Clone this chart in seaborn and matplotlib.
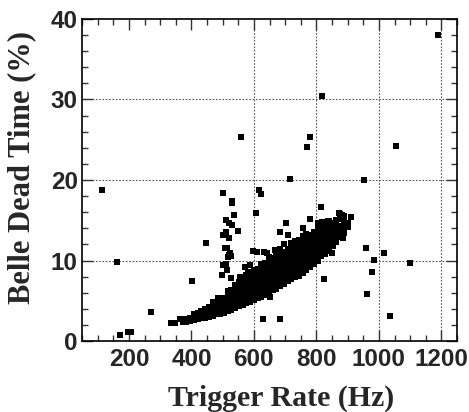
import numpy as np
import pandas as pd
import matplotlib
matplotlib.use("Agg")
import matplotlib.pyplot as plt
from matplotlib.ticker import MultipleLocator
import seaborn as sns

# isolated runs far from the main band (rate in Hz, dead time in %)
stray_rate = [115, 163, 172, 198, 206, 271, 334, 340, 346, 364, 374, 403, 446,
              560, 607, 617, 622, 609, 628, 684, 652, 716, 769, 780, 819, 814,
              824, 952, 959, 961, 977, 985, 1017, 1036, 1055, 1100, 1190]
stray_dead = [18.8, 9.8, 0.8, 1.1, 1.1, 3.6, 2.2, 2.2, 2.2, 2.7, 2.4, 7.5, 12.2,
              25.4, 15.9, 18.8, 18.3, 11.1, 2.7, 2.7, 5.5, 20.1, 24.1, 25.4, 30.4, 16.6,
              7.7, 20.0, 11.6, 5.8, 8.6, 10.1, 10.9, 3.1, 24.2, 9.7, 38.0]

# the vertical streak around 500-560 Hz
spur_rate = [502, 531, 531, 536, 511, 521, 529, 550, 502, 511, 521, 508, 513,
             521, 526, 518, 523, 500, 511, 513, 497, 526, 572, 588, 556, 598]
spur_dead = [18.4, 17.4, 17.1, 15.6, 15.0, 14.7, 14.4, 13.7, 13.2, 13.5, 12.8, 11.5, 11.6,
             10.7, 10.5, 10.4, 10.9, 9.4, 9.6, 8.8, 8.2, 7.8, 9.2, 9.4, 8.0, 11.2]

# loose points on the upper edge of the band
fringe_rate = [758, 764, 780, 806, 817, 838, 873, 881, 911, 897, 900, 884, 849,
               703, 684, 710, 668, 632, 641, 806, 470, 486, 540, 582, 854]
fringe_dead = [14.0, 13.0, 15.1, 14.6, 14.8, 14.9, 15.9, 15.7, 15.4, 14.6, 14.1, 12.8, 10.9,
               14.6, 13.6, 13.2, 11.3, 11.1, 10.9, 10.1, 4.9, 5.3, 6.9, 8.6, 11.9]

# the dense band, read column by column
band_rate = [384, 396, 408, 420, 432, 444, 456, 468, 480, 492, 504, 516, 528, 540,
             552, 564, 576, 588, 600, 612, 624, 636, 648, 660, 672, 684, 696, 708,
             720, 732, 744, 756, 768, 780, 792, 804, 816, 828, 840, 852, 864, 876,
             888, 900]
band_dead = [
    [2.4, 2.7],
    [2.5, 2.9],
    [2.6, 3.0, 3.3],
    [2.7, 3.1, 3.5],
    [2.8, 3.2, 3.7],
    [2.9, 3.3, 3.7, 4.0],
    [3.0, 3.4, 3.8, 4.2],
    [3.1, 3.5, 3.9, 4.4],
    [3.3, 3.7, 4.1, 4.5, 4.8],
    [3.4, 3.8, 4.2, 4.6, 5.1],
    [3.5, 3.9, 4.3, 4.7, 5.1, 5.4],
    [3.7, 4.1, 4.5, 4.9, 5.3, 5.7, 6.2],
    [3.9, 4.3, 4.7, 5.1, 5.5, 5.9, 6.3],
    [4.1, 4.5, 4.9, 5.3, 5.7, 6.1, 6.4],
    [4.3, 4.7, 5.1, 5.5, 5.9, 6.3, 6.7, 7.3],
    [4.5, 4.9, 5.3, 5.7, 6.1, 6.5, 6.9, 7.2],
    [4.7, 5.1, 5.5, 5.9, 6.3, 6.7, 7.1, 7.5, 8.2],
    [4.9, 5.3, 5.7, 6.1, 6.5, 6.9, 7.3, 7.7, 8.0],
    [5.1, 5.5, 5.9, 6.3, 6.7, 7.1, 7.5, 7.9, 8.3, 8.8],
    [5.3, 5.7, 6.1, 6.5, 6.9, 7.3, 7.7, 8.1, 8.5, 9.0],
    [5.5, 5.9, 6.3, 6.7, 7.1, 7.5, 7.9, 8.3, 8.7, 9.1, 9.6],
    [5.7, 6.1, 6.5, 6.9, 7.3, 7.7, 8.1, 8.5, 8.9, 9.3, 9.7],
    [6.0, 6.4, 6.8, 7.2, 7.6, 8.0, 8.4, 8.8, 9.2, 9.6, 10.0, 10.4],
    [6.3, 6.7, 7.1, 7.5, 7.9, 8.3, 8.7, 9.1, 9.5, 9.9, 10.3],
    [6.5, 6.9, 7.3, 7.7, 8.1, 8.5, 8.9, 9.3, 9.7, 10.1, 10.5],
    [6.8, 7.2, 7.6, 8.0, 8.4, 8.8, 9.2, 9.6, 10.0, 10.4, 10.8, 11.4],
    [7.1, 7.5, 7.9, 8.3, 8.7, 9.1, 9.5, 9.9, 10.3, 10.7, 11.1, 12.0],
    [7.4, 7.8, 8.2, 8.6, 9.0, 9.4, 9.8, 10.2, 10.6, 11.0, 11.4],
    [7.7, 8.1, 8.5, 8.9, 9.3, 9.7, 10.1, 10.5, 10.9, 11.3, 11.7, 12.2],
    [7.9, 8.3, 8.7, 9.1, 9.5, 9.9, 10.3, 10.7, 11.1, 11.5, 11.9, 12.4],
    [8.1, 8.5, 8.9, 9.3, 9.7, 10.1, 10.5, 10.9, 11.3, 11.7, 12.1, 12.6],
    [8.4, 8.8, 9.2, 9.6, 10.0, 10.4, 10.8, 11.2, 11.6, 12.0, 12.5, 13.0],
    [8.8, 9.2, 9.6, 10.0, 10.4, 10.8, 11.2, 11.6, 12.0, 12.4, 12.8, 13.3],
    [9.2, 9.6, 10.0, 10.4, 10.8, 11.2, 11.6, 12.0, 12.4, 12.8, 13.2],
    [9.6, 10.0, 10.4, 10.8, 11.2, 11.6, 12.0, 12.4, 12.9, 13.6],
    [10.0, 10.4, 10.9, 11.3, 11.7, 12.2, 12.6, 13.0, 13.5, 14.0],
    [10.5, 11.0, 11.6, 12.1, 12.5, 13.1, 13.6, 14.3],
    [10.8, 11.5, 12.0, 12.6, 13.2, 13.8, 14.5],
    [11.2, 11.9, 12.4, 13.0, 13.7, 14.2, 14.9],
    [11.8, 12.6, 13.3, 14.0, 14.6],
    [12.3, 13.1, 13.8, 14.4, 15.0],
    [12.9, 13.6, 14.3, 15.1, 15.8],
    [13.4, 14.0, 14.8, 15.5],
    [14.1, 14.6],
]

grid_rate = [600, 800, 1000, 1200]
grid_dead = [10, 20, 30]

# one table for seaborn
rate = stray_rate + spur_rate + fringe_rate
dead = stray_dead + spur_dead + fringe_dead
for x, ys in zip(band_rate, band_dead):
    for y in ys:
        rate.append(x)
        dead.append(y)
df = pd.DataFrame({"rate": rate, "dead": dead})
print(len(df), "points")

sns.set_style("ticks")

fig = plt.figure(figsize=(4.69, 4.12), dpi=100)
ax = fig.add_axes([82 / 469, 71 / 412, 375 / 469, 322 / 412])

# grid first, so the points sit on top
for g in grid_rate:
    ax.axvline(g, color="#555555", lw=0.8, ls=(0, (1.5, 1.5)), zorder=0)
for g in grid_dead:
    ax.axhline(g, color="#555555", lw=0.8, ls=(0, (1.5, 1.5)), zorder=0)

sns.scatterplot(data=df, x="rate", y="dead", ax=ax, color="black",
                marker="s", s=14, linewidth=0, legend=False)

ax.set_xlim(50, 1250)
ax.set_ylim(0, 40)
ax.xaxis.set_major_locator(MultipleLocator(200))
ax.xaxis.set_minor_locator(MultipleLocator(50))
ax.yaxis.set_major_locator(MultipleLocator(10))
ax.yaxis.set_minor_locator(MultipleLocator(2))
ax.tick_params(which="both", direction="in", top=True, right=True,
               color="#333333", width=1.0)
ax.tick_params(which="major", length=8, pad=3)
ax.tick_params(which="minor", length=4)
ax.tick_params(axis="x", which="major", pad=5)

for lab in ax.get_xticklabels() + ax.get_yticklabels():
    lab.set_family("Liberation Sans")
    lab.set_fontweight("bold")
    lab.set_fontsize(17.5)

for sp in ax.spines.values():
    sp.set_color("black")
    sp.set_linewidth(1.2)

ax.set_xlabel("Trigger Rate (Hz)", family="Liberation Serif", fontweight="bold", fontsize=21.5)
ax.set_ylabel("Belle Dead Time (%)", family="Liberation Serif", fontweight="bold", fontsize=22)
ax.xaxis.set_label_coords(0.53, -0.137)
ax.yaxis.set_label_coords(-0.122, 0.54)

fig.savefig("out.png", dpi=100)
